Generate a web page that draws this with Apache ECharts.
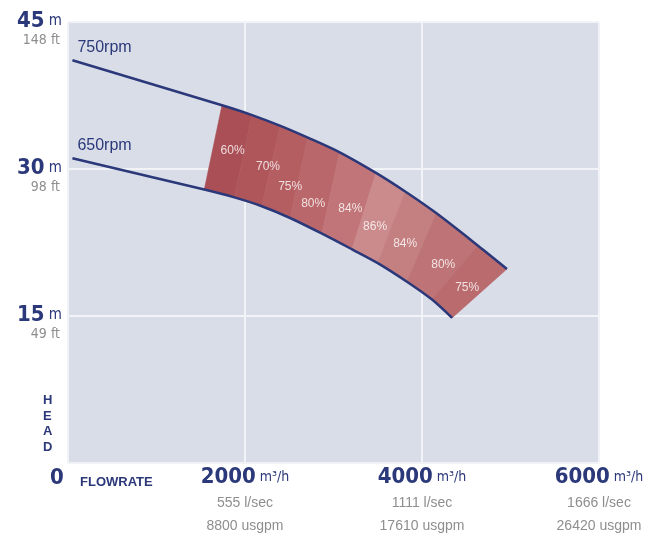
<!DOCTYPE html>
<html><head><meta charset="utf-8">
<script src="https://cdn.jsdelivr.net/npm/echarts@6/dist/echarts.min.js"></script>
<style>html,body{margin:0;padding:0;background:#fff}#c{width:648px;height:536px}</style>
</head><body><div id="c"></div>
<script>
// ---- data ----
const flowTicks = [0, 2000, 4000, 6000];
const flowM3h = ['0', '2000', '4000', '6000'];
const flowLsec = ['', '555 l/sec', '1111 l/sec', '1666 l/sec'];
const flowUsgpm = ['', '8800 usgpm', '17610 usgpm', '26420 usgpm'];
const headTicks = [0, 15, 30, 45];
const headM = ['0', '15', '30', '45'];
const headFt = ['', '49 ft', '98 ft', '148 ft'];

const rpm750Flow = [50, 1740, 2080, 2400, 2710, 3070, 3480, 3810, 4160, 4630, 4960];
const rpm750Head = [41.1, 36.5, 35.5, 34.4, 33.2, 31.7, 29.6, 27.7, 25.5, 22.2, 19.8];
const rpm650Flow = [50, 1540, 1880, 2190, 2510, 2870, 3210, 3500, 3830, 4110, 4340];
const rpm650Head = [31.1, 27.9, 27.1, 26.2, 25.0, 23.4, 21.8, 20.4, 18.5, 16.7, 14.8];

const effText = ['60%', '70%', '75%', '80%', '84%', '86%', '84%', '80%', '75%'];
const effFlow = [1860, 2260, 2510, 2770, 3190, 3470, 3810, 4240, 4510];
const effHead = [31.9, 30.2, 28.2, 26.5, 26.0, 24.1, 22.4, 20.2, 17.9];

// ---- styles ----
const NAVY = '#2b3879';
const GRAY = '#8e8e8e';
const NARROW = "'Liberation Sans Narrow', 'DejaVu Sans Condensed', sans-serif";
const SANS = "'Liberation Sans', Arial, sans-serif";
const segColors = ['#aa4f55', '#af565b', '#b45e62', '#b9676a', '#c17578', '#cb8a8c', '#c47f81', '#be7376', '#b96b6e'];

const bandData = [];
for (let i = 1; i < rpm750Flow.length - 1; i++) {
  bandData.push([rpm750Flow[i], rpm750Head[i], rpm650Flow[i], rpm650Head[i],
                 rpm750Flow[i + 1], rpm750Head[i + 1], rpm650Flow[i + 1], rpm650Head[i + 1]]);
}
function pairs(xs, ys) { return xs.map((x, i) => [x, ys[i]]); }

const chart = echarts.init(document.getElementById('c'), null, {renderer: 'canvas'});
chart.setOption({
  animation: false,
  backgroundColor: '#ffffff',
  grid: {left: 68, right: 49, top: 22, bottom: 73, show: true, backgroundColor: '#d9dde8', borderWidth: 0},
  xAxis: {
    type: 'value', min: 0, max: 6000, interval: 2000,
    axisLine: {show: false}, axisTick: {show: false},
    splitLine: {show: true, lineStyle: {color: '#f1f3f7', width: 2}},
    axisLabel: {
      margin: 1, verticalAlign: 'top', showMinLabel: true, showMaxLabel: true, hideOverlap: false,
      formatter: function (v) {
        const i = flowTicks.indexOf(v);
        if (i === 0) return '{z|0}';
        return '{n|' + flowM3h[i] + '}{u| m³/h}\n{g1|' + flowLsec[i] + '}\n{g2|' + flowUsgpm[i] + '}';
      },
      rich: {
        z: {fontSize: 22, fontWeight: 'bold', fontFamily: NARROW, color: NAVY, lineHeight: 28, padding: [0, 22, 0, 0]},
        n: {fontSize: 22, fontWeight: 'bold', fontFamily: NARROW, color: NAVY, lineHeight: 26},
        u: {fontSize: 14, fontFamily: NARROW, color: NAVY, lineHeight: 26},
        g1: {fontSize: 14, fontFamily: SANS, color: GRAY, lineHeight: 26},
        g2: {fontSize: 14, fontFamily: SANS, color: GRAY, lineHeight: 20}
      }
    }
  },
  yAxis: {
    type: 'value', min: 0, max: 45, interval: 15,
    axisLine: {show: false}, axisTick: {show: false},
    splitLine: {show: true, lineStyle: {color: '#f1f3f7', width: 2}},
    axisLabel: {
      margin: 6, align: 'right', showMinLabel: true, showMaxLabel: true,
      padding: [14, 0, 0, 0],
      formatter: function (v) {
        const i = headTicks.indexOf(v);
        if (i <= 0) return '';
        return '{n|' + headM[i] + '}{u| m}\n{g|' + headFt[i] + '}';
      },
      rich: {
        n: {fontSize: 22, fontWeight: 'bold', fontFamily: NARROW, color: NAVY, lineHeight: 22},
        u: {fontSize: 15, fontFamily: NARROW, color: NAVY, lineHeight: 22},
        g: {fontSize: 14, fontFamily: NARROW, color: GRAY, lineHeight: 16, padding: [0, 2, 0, 0]}
      }
    }
  },
  graphic: [
    {type: 'text', left: 80, top: 476, style: {text: 'FLOWRATE', font: "bold 13px 'Liberation Sans', Arial, sans-serif", fill: NAVY}},
    {type: 'text', left: 43, top: 393, style: {text: 'H\nE\nA\nD', font: "bold 13px 'Liberation Sans', Arial, sans-serif", fill: NAVY, lineHeight: 15.5, align: 'center'}}
  ],
  series: [
    {
      type: 'custom', z: 2,
      data: bandData,
      encode: {x: [0, 2, 4, 6], y: [1, 3, 5, 7]},
      renderItem: function (params, api) {
        const a = api.coord([api.value(0), api.value(1)]);
        const b = api.coord([api.value(4), api.value(5)]);
        const c = api.coord([api.value(6), api.value(7)]);
        const d = api.coord([api.value(2), api.value(3)]);
        const col = segColors[params.dataIndex];
        return {type: 'polygon', shape: {points: [a, b, c, d]}, style: {fill: col, stroke: col, lineWidth: 0.6}};
      }
    },
    {
      type: 'line', z: 3, symbol: 'none', smooth: 0.3,
      data: pairs(rpm750Flow, rpm750Head),
      lineStyle: {color: NAVY, width: 2.5},
      markPoint: {
        symbol: 'circle', symbolSize: 0,
        label: {show: true, position: 'right', offset: [0, -13], formatter: '750rpm', fontFamily: SANS, fontSize: 16, color: NAVY, letterSpacing: -0.3},
        data: [{coord: [rpm750Flow[0], rpm750Head[0]]}]
      }
    },
    {
      type: 'line', z: 3, symbol: 'none', smooth: 0.3,
      data: pairs(rpm650Flow, rpm650Head),
      lineStyle: {color: NAVY, width: 2.5},
      markPoint: {
        symbol: 'circle', symbolSize: 0,
        label: {show: true, position: 'right', offset: [0, -13], formatter: '650rpm', fontFamily: SANS, fontSize: 16, color: NAVY, letterSpacing: -0.3},
        data: [{coord: [rpm650Flow[0], rpm650Head[0]]}]
      }
    },
    {
      type: 'scatter', z: 4, symbolSize: 0,
      data: effFlow.map((f, i) => [f, effHead[i]]),
      label: {
        show: true, position: 'inside', color: '#ffffff', fontSize: 12, fontFamily: SANS,
        formatter: function (p) { return effText[p.dataIndex]; }
      }
    }
  ]
});
</script>
</body></html>
